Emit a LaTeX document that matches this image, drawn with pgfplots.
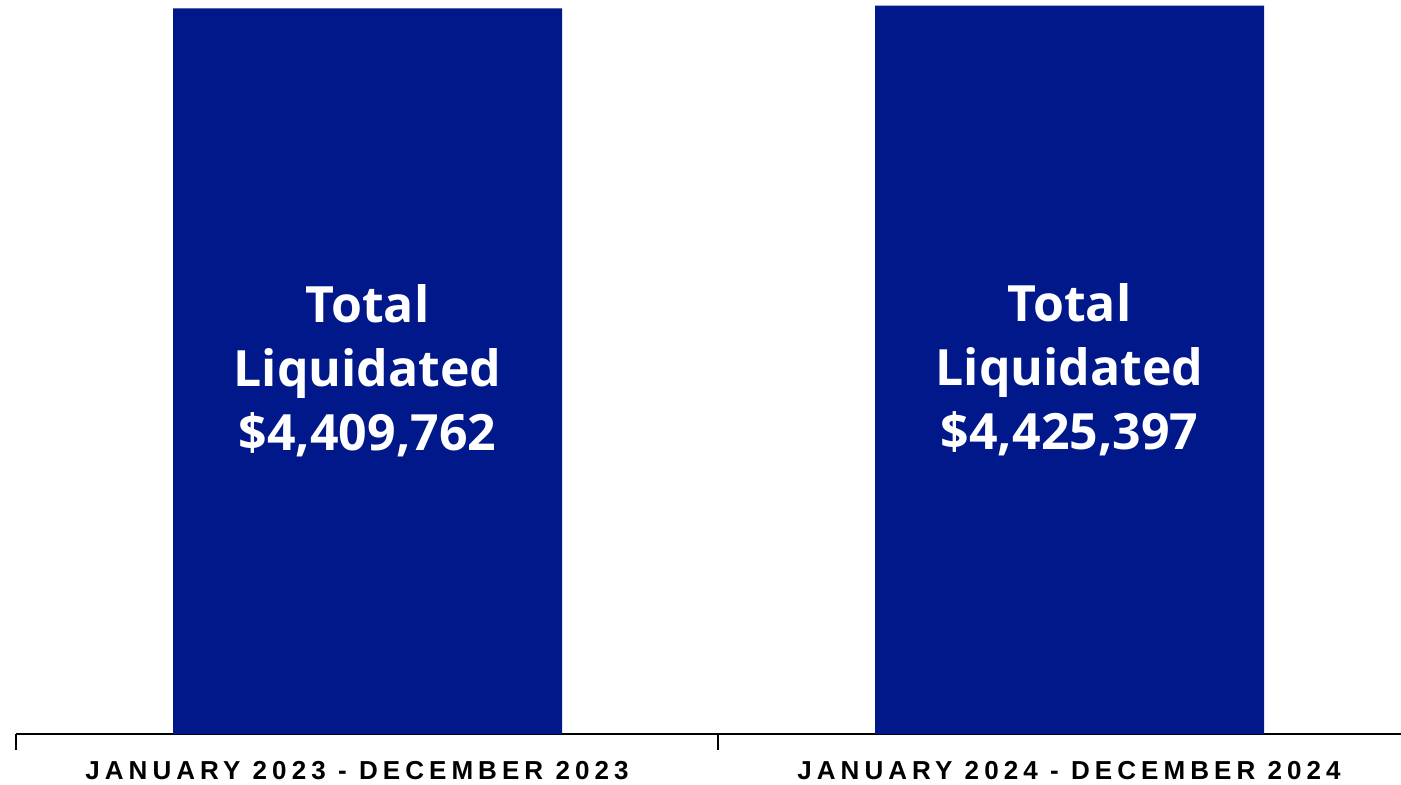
\documentclass[border=0pt]{standalone}
\usepackage{pgfplots}
\pgfplotsset{compat=1.18}
\usepackage{fontspec}
\setmainfont{Liberation Sans}
\newfontfamily\innerfont{Open Sans}
\newfontfamily\labelfont{Liberation Sans}[LetterSpace=19.5]
\definecolor{navy}{HTML}{001889}
\begin{document}
\begin{tikzpicture}
\begin{axis}[
  scale only axis,
  width=692.5pt, height=367pt,
  xmin=16, xmax=1401,
  ymin=0, ymax=4460000,
  axis x line=bottom,
  axis y line=none,
  x axis line style={-, line width=1pt, black},
  xtick={357,1069},
  xticklabels={JANUARY 2023 - DECEMBER 2023, JANUARY 2024 - DECEMBER 2024},
  xticklabel style={font=\labelfont\bfseries\fontsize{13}{15}\selectfont, anchor=base, yshift=-22.5pt},
  major tick length=0pt,
  extra x ticks={16,718},
  extra x tick labels={},
  extra x tick style={major tick length=8pt, tick align=outside, tick style={line width=1pt, black}},
  clip=false,
]
\addplot[ybar, bar width=194.5pt, fill=navy, draw=none] coordinates {(367.5,4409762) (1069.5,4425397)};
\node[text=white, align=center, font=\innerfont\bfseries\fontsize{25}{32}\selectfont] at (axis cs:367.5,2204881) {Total\\Liquidated\\\$4,409,762};
\node[text=white, align=center, font=\innerfont\bfseries\fontsize{25}{32}\selectfont] at (axis cs:1069.5,2212698) {Total\\Liquidated\\\$4,425,397};
\end{axis}
\pgfresetboundingbox
\path (current axis.south west) ++(-8pt,-25pt) rectangle (current axis.north east);
\end{tikzpicture}
\end{document}
